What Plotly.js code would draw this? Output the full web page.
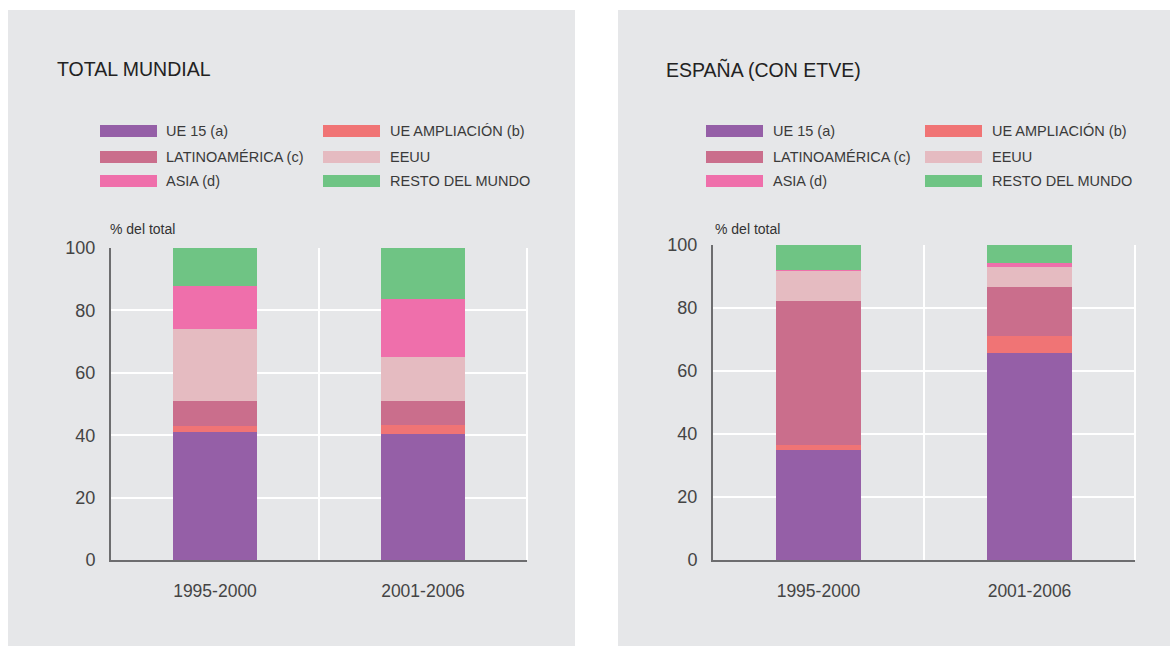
<!DOCTYPE html>
<html>
<head>
<meta charset="utf-8">
<script src="https://cdn.plot.ly/plotly-3.0.1.min.js"></script>
<style>
  html, body { margin: 0; padding: 0; background: #ffffff; }
  #chart { width: 1170px; height: 646px; }
</style>
</head>
<body>
<div id="chart"></div>
<script>
// ---- Data ----
const categories = ['1995-2000', '2001-2006'];
const seriesNames = ['UE 15 (a)', 'UE AMPLIACIÓN (b)', 'LATINOAMÉRICA (c)', 'EEUU', 'ASIA (d)', 'RESTO DEL MUNDO'];
const seriesColors = ['#955fa7', '#f07475', '#ca6e8c', '#e5bbc1', '#ef6fab', '#6fc484'];

// TOTAL MUNDIAL (% del total)
const mundialUE15   = [40.9, 40.4];
const mundialAmpl   = [2.1, 3.0];
const mundialLatam  = [8.1, 7.6];
const mundialEEUU   = [23.0, 14.1];
const mundialAsia   = [13.8, 18.5];
const mundialResto  = [12.1, 16.4];

// ESPAÑA (CON ETVE) (% del total)
const espanaUE15    = [34.9, 65.8];
const espanaAmpl    = [1.6, 5.4];
const espanaLatam   = [45.7, 15.6];
const espanaEEUU    = [9.6, 6.1];
const espanaAsia    = [0.2, 1.3];
const espanaResto   = [8.0, 5.8];

const panelTitles = ['TOTAL MUNDIAL', 'ESPAÑA (CON ETVE)'];
const yUnitLabel = '% del total';
const yTicks = [0, 20, 40, 60, 80, 100];

// ---- Build ----
const W = 1170, H = 646;
const px = x => x / W;
const py = y => 1 - y / H;

const mundial = [mundialUE15, mundialAmpl, mundialLatam, mundialEEUU, mundialAsia, mundialResto];
const espana = [espanaUE15, espanaAmpl, espanaLatam, espanaEEUU, espanaAsia, espanaResto];

const traces = [];
[mundial, espana].forEach((set, p) => {
  set.forEach((vals, i) => {
    traces.push({
      type: 'bar',
      x: categories,
      y: vals,
      name: seriesNames[i],
      marker: { color: seriesColors[i], line: { width: 0 } },
      xaxis: p === 0 ? 'x' : 'x2',
      yaxis: p === 0 ? 'y' : 'y2',
      showlegend: false,
      hoverinfo: 'skip'
    });
  });
});

const FONT = 'Liberation Sans, Arial, Helvetica, sans-serif';
const panelBg = '#e6e7e9';

// panel geometry (pixels)
const panels = [
  { x0: 8, x1: 575, plotL: 111, plotR: 527, plotT: 248, plotB: 560, titleX: 55,
    swX: [100, 323], txtX: [164, 388], unitX: 108 },
  { x0: 618, x1: 1170, plotL: 713, plotR: 1135, plotT: 245, plotB: 560, titleX: 664,
    swX: [706, 925], txtX: [771, 990], unitX: 713 }
];
const rowY = [131, 157, 181];
const swW = 57, swH = 12;

const shapes = [];
const annotations = [];
panels.forEach((pn, p) => {
  shapes.push({ type: 'rect', xref: 'paper', yref: 'paper', layer: 'below',
    x0: px(pn.x0), x1: px(pn.x1), y0: py(646), y1: py(10),
    fillcolor: panelBg, line: { width: 0 } });
  // right-edge vertical gridline (category boundary)
  const xa = p === 0 ? 'x' : 'x2', ya = p === 0 ? 'y' : 'y2';
  shapes.push({ type: 'line', xref: xa + ' domain', yref: ya + ' domain', layer: 'above',
    x0: 1, x1: 1, y0: 0, y1: 1, line: { color: '#ffffff', width: 2 } });
  annotations.push({ xref: 'paper', yref: 'paper', x: px(pn.titleX), y: py(69),
    xanchor: 'left', yanchor: 'middle', showarrow: false, text: panelTitles[p],
    font: { family: FONT, size: 19.5, color: '#222222' } });
  annotations.push({ xref: 'paper', yref: 'paper', x: px(pn.unitX), y: py(229),
    xanchor: 'left', yanchor: 'middle', showarrow: false, text: yUnitLabel,
    font: { family: FONT, size: 14, color: '#333333' } });
  seriesNames.forEach((nm, i) => {
    const r = Math.floor(i / 2), c = i % 2;
    shapes.push({ type: 'rect', xref: 'paper', yref: 'paper',
      x0: px(pn.swX[c]), x1: px(pn.swX[c] + swW),
      y0: py(rowY[r] + swH / 2), y1: py(rowY[r] - swH / 2),
      fillcolor: seriesColors[i], line: { width: 0 } });
    annotations.push({ xref: 'paper', yref: 'paper', x: px(pn.txtX[c]), y: py(rowY[r]),
      xanchor: 'left', yanchor: 'middle', showarrow: false, text: nm,
      font: { family: FONT, size: 14.5, color: '#3a3a3a' } });
  });
});

function xAxis(pn) {
  return {
    domain: [px(pn.plotL), px(pn.plotR)],
    type: 'category',
    tickson: 'boundaries',
    showgrid: true, gridcolor: '#ffffff', gridwidth: 2,
    showline: true, linecolor: '#6d6d6f', linewidth: 2,
    ticks: '', ticklabelstandoff: 14,
    tickfont: { family: FONT, size: 17.5, color: '#444444' },
    zeroline: false, fixedrange: true
  };
}
function yAxis(pn, anchor) {
  return {
    domain: [py(pn.plotB), py(pn.plotT)],
    anchor: anchor,
    range: [0, 100],
    tickvals: yTicks,
    showgrid: true, gridcolor: '#ffffff', gridwidth: 2,
    showline: true, linecolor: '#6d6d6f', linewidth: 2,
    ticks: '', ticklabelstandoff: 10,
    tickfont: { family: FONT, size: 18, color: '#444444' },
    zeroline: false, fixedrange: true
  };
}

const layout = {
  width: W, height: H,
  margin: { l: 0, r: 0, t: 0, b: 0 },
  paper_bgcolor: '#ffffff',
  plot_bgcolor: panelBg,
  barmode: 'stack',
  bargap: 0.595,
  showlegend: false,
  xaxis: Object.assign(xAxis(panels[0]), { anchor: 'y' }),
  yaxis: yAxis(panels[0], 'x'),
  xaxis2: Object.assign(xAxis(panels[1]), { anchor: 'y2' }),
  yaxis2: yAxis(panels[1], 'x2'),
  shapes: shapes,
  annotations: annotations
};

Plotly.newPlot('chart', traces, layout, { displayModeBar: false, staticPlot: true });
</script>
</body>
</html>
